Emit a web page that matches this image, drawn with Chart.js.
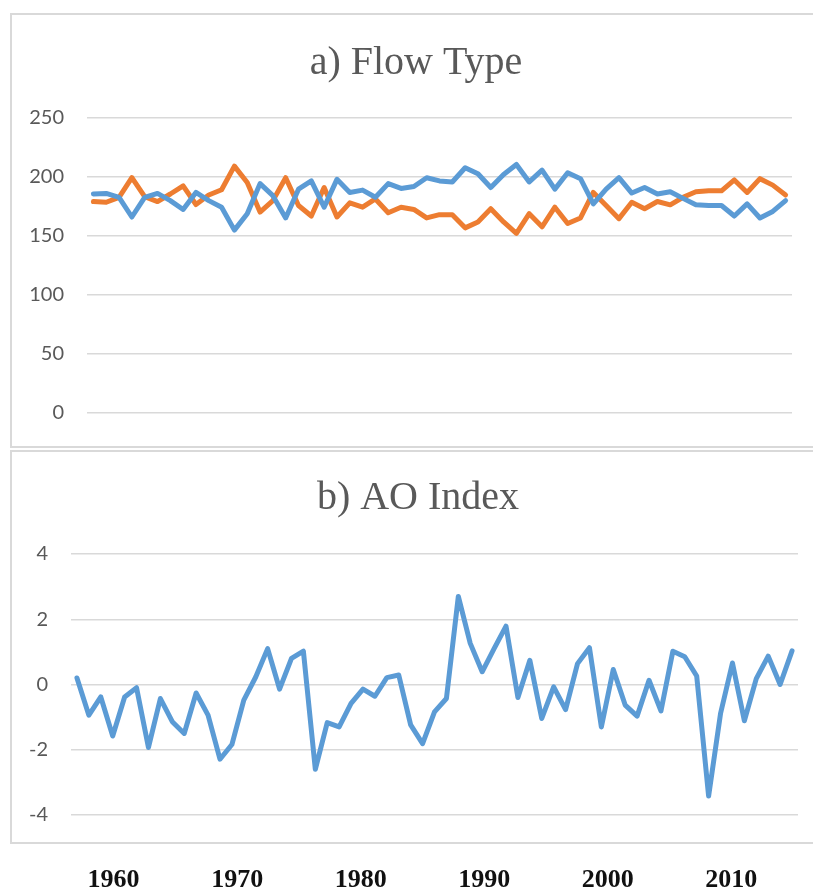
<!DOCTYPE html>
<html>
<head>
<meta charset="utf-8">
<script src="https://cdn.jsdelivr.net/npm/chart.js@4.4.1/dist/chart.umd.min.js"></script>
<style>
	html, body { margin: 0; padding: 0; background: #ffffff; }
	body { position: relative; width: 813px; height: 890px; overflow: hidden; }
	canvas { position: absolute; left: 0; }
	#flowChart { top: 0; }
	#aoChart { top: 449px; }
	.panel {
		position: absolute;
		left: 10px;
		width: 900px;
		box-sizing: border-box;
		border: 2px solid #d9d9d9;
		pointer-events: none;
	}
	#flowPanel { top: 13px; height: 435px; }
	#aoPanel { top: 450px; height: 394px; }
</style>
</head>
<body>
<canvas id="flowChart" width="813" height="448"></canvas>
<canvas id="aoChart" width="813" height="441"></canvas>
<div class="panel" id="flowPanel"></div>
<div class="panel" id="aoPanel"></div>
<script>
	"use strict";

	// a) flow type: days per year
	var flowYears = [];
	for (var y = 1961; y <= 2015; y++) { flowYears.push(String(y)); }
	var zonalDays = [
		185.6, 186.1, 182.8, 166.1, 182.8, 186.1, 180.0, 172.5, 186.9, 180.0,
		174.4, 155.0, 168.9, 194.4, 184.2, 165.3, 189.7, 196.7, 174.4, 198.0,
		186.9, 188.9, 182.8, 194.4, 190.3, 191.9, 199.4, 196.7, 195.8, 207.8,
		202.8, 191.1, 202.2, 210.6, 195.8, 205.8, 189.7, 203.6, 198.6, 177.2,
		189.7, 199.4, 186.4, 191.1, 185.6, 187.5, 181.9, 176.4, 175.8, 175.8,
		166.9, 177.2, 165.3, 170.8, 180.0
	];
	var meridionalDays = [
		179.2, 178.6, 182.8, 199.4, 183.3, 179.2, 185.6, 192.5, 176.7, 184.7,
		189.2, 209.2, 195.3, 170.3, 180.0, 199.4, 175.8, 166.9, 191.1, 166.1,
		178.1, 174.4, 181.4, 169.7, 174.4, 172.5, 165.3, 168.1, 168.1, 156.9,
		161.9, 173.1, 161.9, 152.2, 168.9, 157.8, 174.4, 160.6, 165.3, 186.9,
		175.8, 164.7, 178.6, 173.1, 179.2, 176.4, 182.8, 187.5, 188.3, 188.3,
		197.5, 186.9, 198.6, 193.1, 184.7
	];

	// b) AO index
	var aoYears = [];
	for (var a = 1957; a <= 2017; a++) { aoYears.push(String(a)); }
	var aoIndex = [
		0.20, -0.94, -0.38, -1.58, -0.38, -0.10, -1.93, -0.43, -1.14, -1.50,
		-0.26, -0.94, -2.29, -1.84, -0.48, 0.23, 1.10, -0.14, 0.80, 1.02,
		-2.60, -1.17, -1.30, -0.58, -0.14, -0.36, 0.21, 0.29, -1.24, -1.81,
		-0.84, -0.43, 2.70, 1.26, 0.39, 1.10, 1.79, -0.40, 0.74, -1.04,
		-0.07, -0.77, 0.64, 1.13, -1.30, 0.46, -0.63, -0.97, 0.13, -0.81,
		1.02, 0.85, 0.26, -3.42, -0.89, 0.66, -1.11, 0.18, 0.87, 0.00,
		1.03
	];

	// decade labels under the lower panel
	var decadeMin = 1956.55;
	var decadeMax = 2015.4;
	var decadeStep = 10;

	var blue = "#5b9bd5";
	var orange = "#ed7d31";
	var grey = "#595959";
	var gridGrey = "#d9d9d9";

	Chart.defaults.font.family = "Lato";

	// the titles sit off-centre from the plot, so they are placed by hand
	var panelTitle = {
		id: "panelTitle",
		afterDraw: function (chart, args, opts) {
			var ctx = chart.ctx;
			ctx.save();
			ctx.fillStyle = grey;
			ctx.font = "40px 'Liberation Serif'";
			ctx.textAlign = "center";
			ctx.textBaseline = "middle";
			ctx.fillText(opts.text, opts.x, opts.y);
			ctx.restore();
		}
	};

	function lineSet(label, values, colour) {
		return {
			label: label,
			data: values,
			borderColor: colour,
			backgroundColor: colour,
			borderWidth: 5,
			borderJoinStyle: "round",
			borderCapStyle: "round",
			pointRadius: 0,
			tension: 0,
			fill: false
		};
	}

	function yAxis(min, max, step, width) {
		return {
			min: min,
			max: max,
			afterFit: function (scale) { scale.width = width; },
			ticks: {
				stepSize: step,
				padding: 23,
				color: grey,
				font: { family: "Lato", size: 20 }
			},
			grid: { color: gridGrey, lineWidth: 1.5, drawTicks: false },
			border: { display: false }
		};
	}

	new Chart(document.getElementById("flowChart"), {
		type: "line",
		data: {
			labels: flowYears,
			datasets: [
				lineSet("Zonal", zonalDays, blue),
				lineSet("Meridional", meridionalDays, orange)
			]
		},
		options: {
			responsive: false,
			animation: false,
			devicePixelRatio: 1,
			layout: { padding: { top: 118, left: 0, right: 21, bottom: 29 } },
			plugins: {
				legend: { display: false },
				tooltip: { enabled: false },
				title: { display: false },
				panelTitle: { text: "a) Flow Type", x: 416, y: 63 }
			},
			scales: {
				x: { type: "category", offset: true, display: false },
				y: yAxis(0, 250, 50, 87)
			}
		},
		plugins: [panelTitle]
	});

	new Chart(document.getElementById("aoChart"), {
		type: "line",
		data: {
			labels: aoYears,
			datasets: [lineSet("AO Index", aoIndex, blue)]
		},
		options: {
			responsive: false,
			animation: false,
			devicePixelRatio: 1,
			layout: { padding: { top: 105, left: 0, right: 15, bottom: 0 } },
			plugins: {
				legend: { display: false },
				tooltip: { enabled: false },
				title: { display: false },
				panelTitle: { text: "b) AO Index", x: 418, y: 49 }
			},
			scales: {
				x: { type: "category", offset: true, display: false },
				decades: {
					type: "linear",
					position: "bottom",
					min: decadeMin,
					max: decadeMax,
					afterFit: function (scale) { scale.height = 75; },
					ticks: {
						stepSize: decadeStep,
						includeBounds: false,
						padding: 50,
						maxRotation: 0,
						color: "#111111",
						font: { family: "Liberation Serif", size: 26, weight: "bold" },
						callback: function (value) { return String(value); }
					},
					grid: { display: false, drawTicks: false },
					border: { display: false }
				},
				y: yAxis(-4, 4, 2, 71)
			}
		},
		plugins: [panelTitle]
	});
</script>
</body>
</html>
